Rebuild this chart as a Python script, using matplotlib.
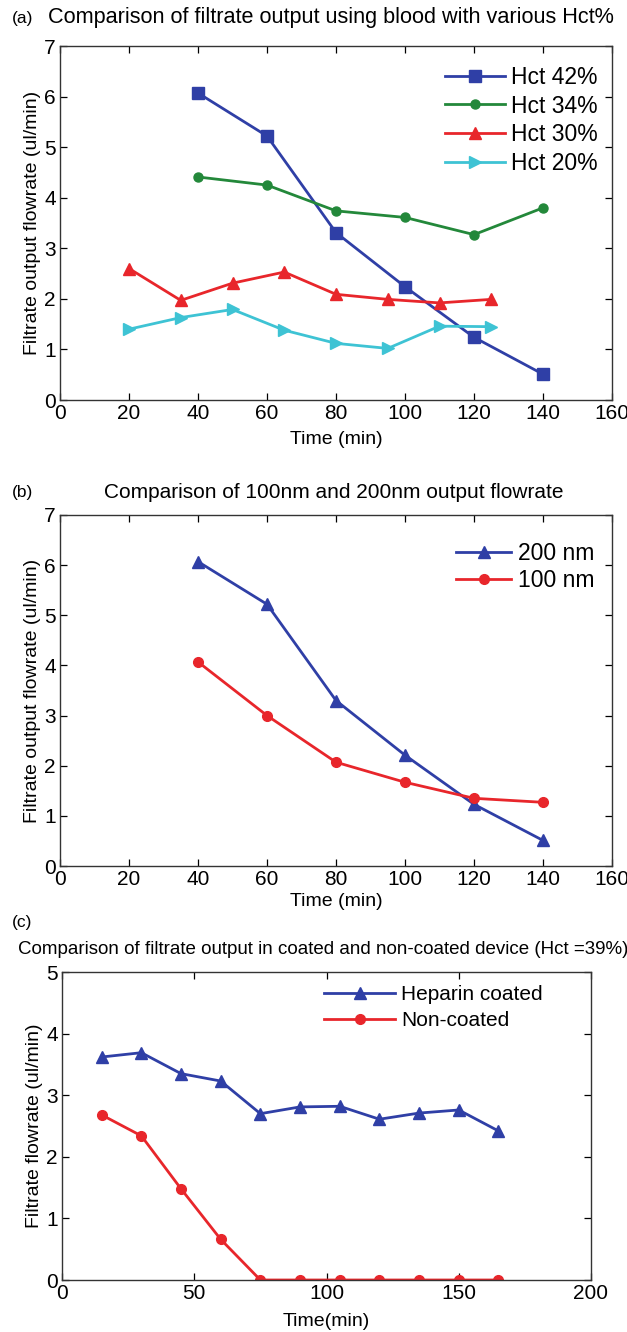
import matplotlib
matplotlib.use("Agg")
import matplotlib.pyplot as plt

plt.rcParams['font.family'] = ['Liberation Sans', 'DejaVu Sans']

# panel (a): filtrate output at various Hct%
t42 = [40, 60, 80, 100, 120, 140]
hct42 = [6.07, 5.22, 3.31, 2.24, 1.24, 0.51]
t34 = [40, 60, 80, 100, 120, 140]
hct34 = [4.41, 4.25, 3.74, 3.61, 3.27, 3.80]
t30 = [20, 35, 50, 65, 80, 95, 110, 125]
hct30 = [2.60, 1.97, 2.31, 2.53, 2.09, 1.99, 1.92, 1.99]
t20 = [20, 35, 50, 65, 80, 95, 110, 125]
hct20 = [1.40, 1.63, 1.79, 1.38, 1.12, 1.02, 1.46, 1.45]

# panel (b): 100 nm vs 200 nm
tb = [40, 60, 80, 100, 120, 140]
nm200 = [6.07, 5.22, 3.30, 2.21, 1.23, 0.51]
nm100 = [4.07, 3.00, 2.07, 1.67, 1.35, 1.27]

# panel (c): coated vs non-coated
tc = [15, 30, 45, 60, 75, 90, 105, 120, 135, 150, 165]
coated = [3.62, 3.69, 3.35, 3.23, 2.70, 2.81, 2.82, 2.61, 2.71, 2.76, 2.42]
noncoated = [2.68, 2.34, 1.48, 0.66, 0, 0, 0, 0, 0, 0, 0]

blue = '#2f3fa6'
green = '#23883a'
red = '#e8262b'
cyan = '#3ec3d4'

W, H = 627, 1332
fig = plt.figure(figsize=(W / 100, H / 100), dpi=100)


def box(l, t, r, b):
    return [l / W, 1 - b / H, (r - l) / W, (b - t) / H]


def style(ax):
    ax.tick_params(direction='in', top=True, right=True, length=5,
                   width=0.9, labelsize=15, pad=3)
    for s in ax.spines.values():
        s.set_linewidth(1.0)
        s.set_color('#333333')


# (a)
ax1 = fig.add_axes(box(60, 46, 612, 400))
ax1.plot(t42, hct42, '-s', color=blue, lw=2, ms=9, label='Hct 42%')
ax1.plot(t34, hct34, '-o', color=green, lw=2, ms=6.5, label='Hct 34%')
ax1.plot(t30, hct30, '-^', color=red, lw=2, ms=9, label='Hct 30%')
ax1.plot(t20, hct20, '->', color=cyan, lw=2, ms=9, label='Hct 20%')
ax1.set_xlim(0, 160)
ax1.set_ylim(0, 7)
ax1.set_xticks(range(0, 161, 20))
ax1.set_yticks(range(0, 8))
ax1.set_xlabel('Time (min)', fontsize=14, labelpad=6)
ax1.set_ylabel('Filtrate output flowrate (ul/min)', fontsize=14, labelpad=2)
style(ax1)
ax1.legend(loc='upper right', bbox_to_anchor=(0.99, 0.97), frameon=False,
           fontsize=16.5, handlelength=2.6, handletextpad=0.25,
           labelspacing=0.25, borderaxespad=0)
fig.text(12 / W, 1 - 18 / H, '(a)', fontsize=12.5, va='center', ha='left')
fig.text(48 / W, 1 - 18 / H,
         'Comparison of filtrate output using blood with various Hct%',
         fontsize=15.6, va='center', ha='left')

# (b)
ax2 = fig.add_axes(box(60, 515, 612, 866))
ax2.plot(tb, nm200, '-^', color=blue, lw=2, ms=9, label='200 nm')
ax2.plot(tb, nm100, '-o', color=red, lw=2, ms=7, label='100 nm')
ax2.set_xlim(0, 160)
ax2.set_ylim(0, 7)
ax2.set_xticks(range(0, 161, 20))
ax2.set_yticks(range(0, 8))
ax2.set_xlabel('Time (min)', fontsize=14, labelpad=3)
ax2.set_ylabel('Filtrate output flowrate (ul/min)', fontsize=14, labelpad=2)
style(ax2)
ax2.legend(loc='upper right', bbox_to_anchor=(0.985, 0.95), frameon=False,
           fontsize=16.5, handlelength=2.4, handletextpad=0.3,
           labelspacing=0.2, borderaxespad=0)
fig.text(12 / W, 1 - 493 / H, '(b)', fontsize=12.5, va='center', ha='left')
fig.text(334 / W, 1 - 493 / H,
         'Comparison of 100nm and 200nm output flowrate',
         fontsize=15, va='center', ha='center')

# (c)
ax3 = fig.add_axes(box(62, 972, 591, 1280))
ax3.plot(tc, coated, '-^', color=blue, lw=2, ms=9, label='Heparin coated')
ax3.plot(tc, noncoated, '-o', color=red, lw=2, ms=7, label='Non-coated')
ax3.set_xlim(0, 200)
ax3.set_ylim(0, 5)
ax3.set_xticks(range(0, 201, 50))
ax3.set_yticks(range(0, 6))
ax3.set_xlabel('Time(min)', fontsize=14, labelpad=7)
ax3.set_ylabel('Filtrate flowrate (ul/min)', fontsize=14, labelpad=2)
style(ax3)
ax3.legend(loc='upper left', bbox_to_anchor=(0.48, 0.985), frameon=False,
           fontsize=15, handlelength=3.4, handletextpad=0.3,
           labelspacing=0.35, borderaxespad=0)
fig.text(12 / W, 1 - 923 / H, '(c)', fontsize=12.5, va='center', ha='left')
fig.text(18 / W, 1 - 950 / H,
         'Comparison of filtrate output in coated and non-coated device (Hct =39%)',
         fontsize=13.5, va='center', ha='left')

fig.savefig('out.png', dpi=100)
